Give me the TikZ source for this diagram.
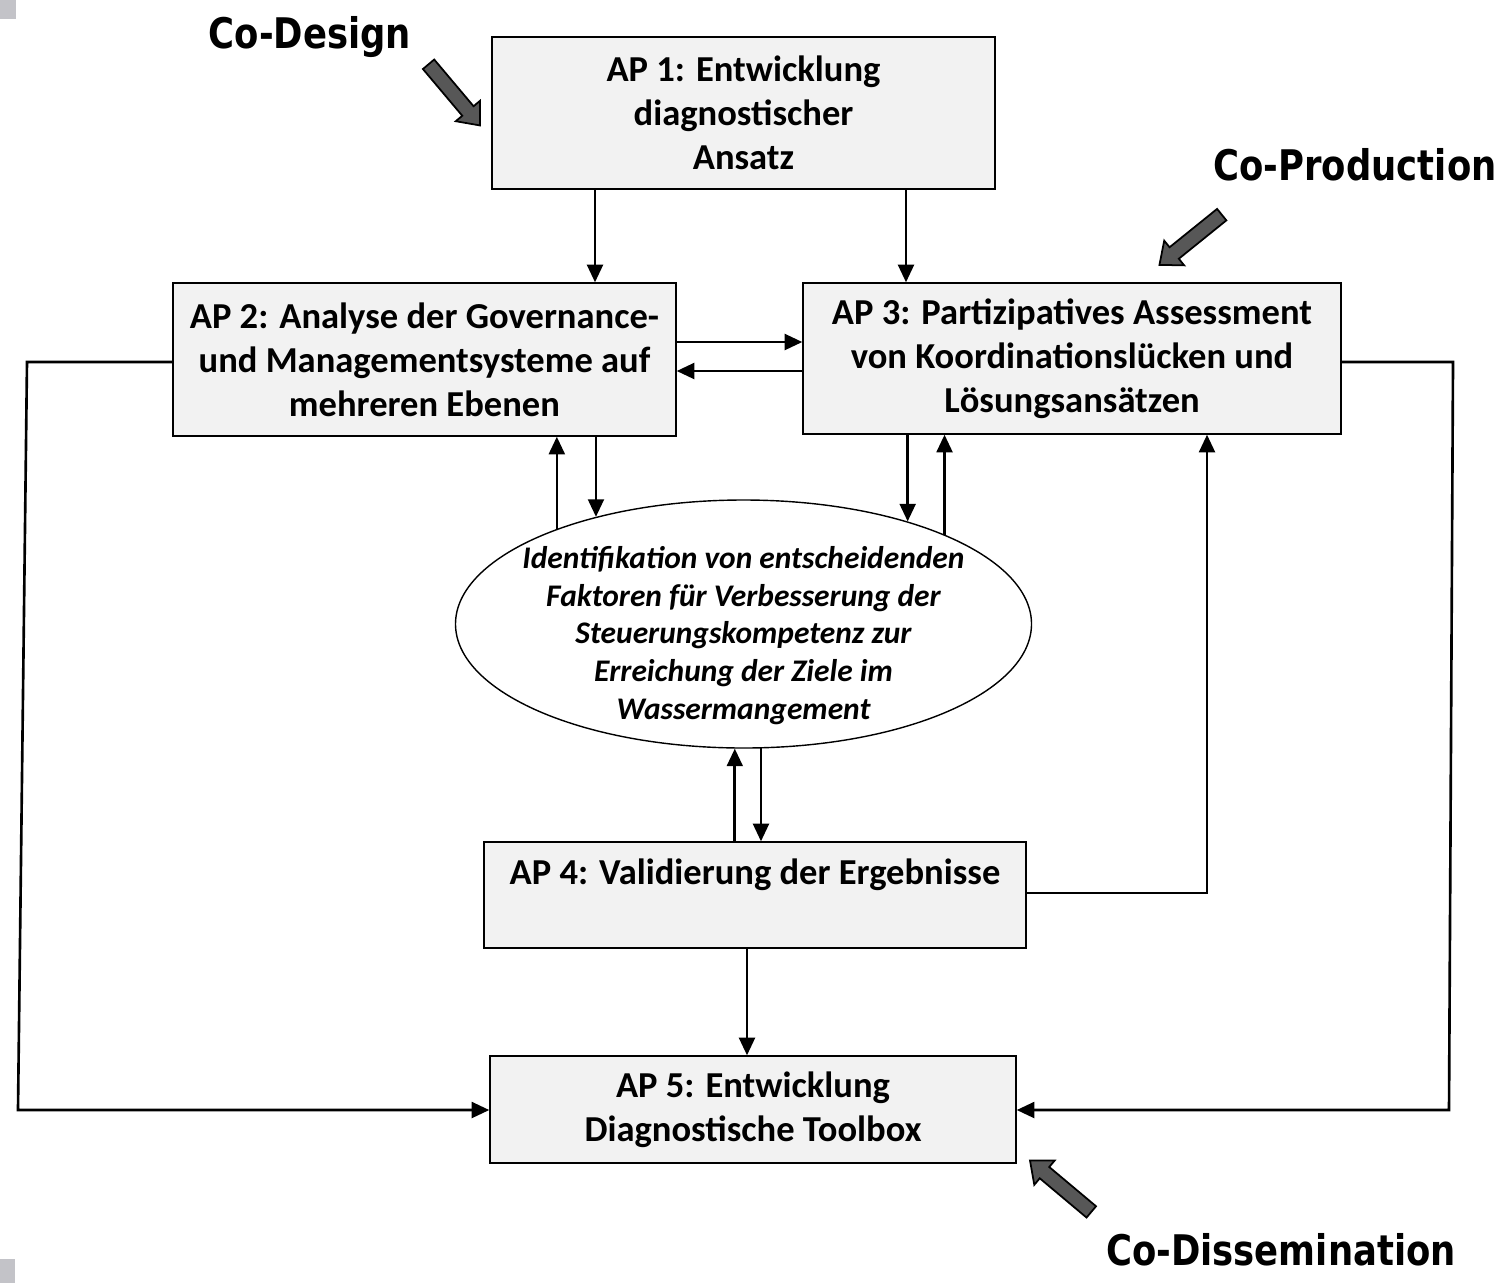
\documentclass[tikz,border=0pt]{standalone}
\usepackage{fontspec}
\setmainfont{Carlito}
\newfontfamily\cofont[FakeStretch=0.84]{DejaVu Sans}
\usetikzlibrary{arrows.meta,shapes.geometric,shapes.arrows}

\definecolor{boxgray}{HTML}{F2F2F2}
\definecolor{arrgray}{HTML}{575757}
\definecolor{cornergray}{HTML}{C3C3C8}

\tikzset{
  apbox/.style={draw,line width=0.8pt,fill=boxgray,align=center,inner sep=0pt,
    font=\fontsize{20.8}{25}\selectfont\bfseries},
  flow/.style={line width=1.5pt,-{Triangle[length=10pt,width=9pt]}},
  bigarr/.style={single arrow,draw=black,line width=1pt,fill=arrgray,inner sep=1.3mm,
    single arrow head extend=1.7mm,single arrow tip angle=80,minimum height=16mm},
  colabel/.style={font=\cofont\fontsize{24}{30}\selectfont\bfseries}
}

\begin{document}
\begin{tikzpicture}[x=0.2mm,y=-0.2mm]
  \useasboundingbox (0,0) rectangle (1499,1283);
  % corner marks
  \fill[cornergray] (0,0) rectangle (16,19);
  \fill[cornergray] (0,1259) rectangle (15,1283);

  % Work packages
  \node[apbox,minimum width=100.6mm,minimum height=30.4mm] (ap1) at (743.5,113)
    {AP 1: Entwicklung\\diagnostischer\\Ansatz};
  \node[apbox,minimum width=100.6mm,minimum height=30.6mm] (ap2) at (424.5,359.5)
    {AP 2: Analyse der Governance-\\und Managementsysteme auf\\mehreren Ebenen};
  \node[apbox,minimum width=107.6mm,minimum height=30.2mm] (ap3) at (1072,358.5)
    {AP 3: Partizipatives Assessment\\von Koordinationslücken und\\Lösungsansätzen};
  \node[apbox,minimum width=108.4mm,minimum height=21.2mm] (ap4) at (755,895)
    {AP 4: Validierung der Ergebnisse\\[-2mm]\strut};
  \node[apbox,minimum width=105.2mm,minimum height=21.4mm] (ap5) at (753,1109.5)
    {AP 5: Entwicklung\\Diagnostische Toolbox};

  % Central ellipse
  \node[ellipse,draw,line width=0.8pt,fill=white,inner sep=0pt,
    minimum width=115.2mm,minimum height=49.6mm] (idf) at (743.5,624) {};
  \node[align=center,font=\fontsize{17.9}{21.5}\selectfont\bfseries\itshape] (idftext)
    at ([yshift=-2.3mm]idf.center)
    {Identifikation von entscheidenden\\Faktoren für Verbesserung der\\Steuerungskompetenz zur\\Erreichung der Ziele im\\Wassermangement};

  % Flows between work packages
  \draw[flow] (ap1.south -| 595,0) -- (ap2.north -| 595,0);
  \draw[flow] (ap1.south -| 906,0) -- (ap3.north -| 906,0);
  \draw[flow] (ap2.east |- 0,342) -- (ap3.west |- 0,342);
  \draw[flow] (ap3.west |- 0,371) -- (ap2.east |- 0,371);
  \draw[flow] (idf.153.35) -- (idf.153.35 |- ap2.south);
  \draw[flow] (ap2.south -| idf.144.43) -- (idf.144.43);
  \draw[flow] (ap3.south -| idf.32.21) -- (idf.32.21);
  \draw[flow] (idf.24.78) -- (idf.24.78 |- ap3.south);
  \draw[flow] (ap4.north -| idf.266.08) -- (idf.266.08);
  \draw[flow] (idf.278.96) -- (idf.278.96 |- ap4.north);
  \draw[flow] (ap4.south -| 747,0) -- (ap5.north -| 747,0);

  % Feedback loops
  \coordinate (ap4r) at (1207,893);
  \draw[flow] (ap4.east |- ap4r) -- (ap4r) -- (ap4r |- ap3.south);
  \coordinate (lt) at (27,362);
  \coordinate (lb) at (18,1110);
  \draw[flow] (ap2.west |- lt) -- (lt) -- (lb) -- (ap5.west |- lb);
  \coordinate (rt) at (1453,362);
  \coordinate (rb) at (1449,1110);
  \draw[flow] (ap3.east |- rt) -- (rt) -- (rb) -- (ap5.east |- rb);

  % Co-labels with block arrows
  \node[colabel] (codes) at (310,37) {Co-Design};
  \node[bigarr,rotate=-49.9] (codesarr) at (451.5,91.5) {};
  \node[colabel] (coprod) at (1355,165) {Co-Production};
  \node[bigarr,rotate=218.9] (coprodarr) at (1194,237) {};
  \node[colabel] (codiss) at (1281,1250) {Co-Dissemination};
  \node[bigarr,rotate=140] (codissarr) at (1064,1189) {};
\end{tikzpicture}
\end{document}
